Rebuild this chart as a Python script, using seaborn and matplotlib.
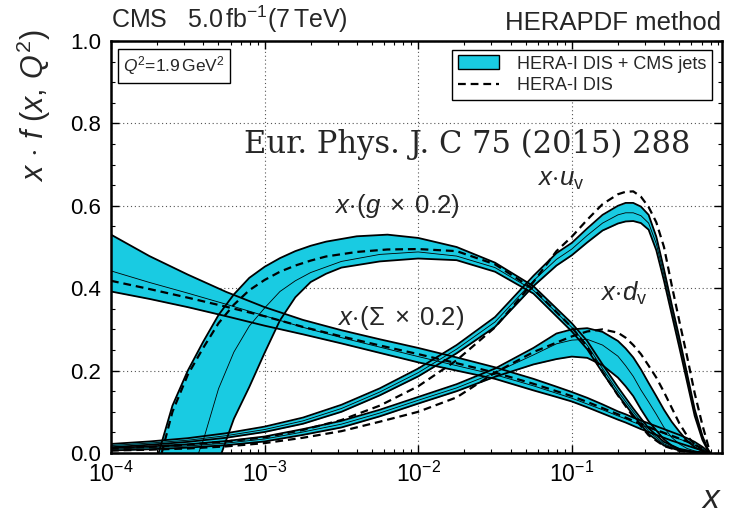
import numpy as np
import pandas as pd
import matplotlib
matplotlib.use("Agg")
import matplotlib.pyplot as plt
import seaborn as sns
from matplotlib.patches import Patch
from matplotlib.lines import Line2D
from matplotlib.ticker import LogLocator, MultipleLocator, NullFormatter, FixedLocator

# ---------------------------------------------------------------------------
# PDF values at Q^2 = 1.9 GeV^2 (x * f(x)), sampled at log10(x)
# ---------------------------------------------------------------------------
LOG_X = [-4.0, -3.75, -3.5, -3.25, -3.0, -2.75, -2.5, -2.25, -2.0, -1.75,
         -1.5, -1.25, -1.1, -1.0, -0.9, -0.8, -0.7, -0.65, -0.6, -0.55,
         -0.5, -0.45, -0.4, -0.35, -0.3, -0.25, -0.2, -0.15, -0.12, -0.1]

# sea quarks x*(Sigma x 0.2)
sea_up = [0.530, 0.478, 0.433, 0.391, 0.354, 0.323, 0.298, 0.276, 0.255, 0.232,
          0.208, 0.180, 0.161, 0.148, 0.134, 0.118, 0.101, 0.094, 0.086, 0.079,
          0.072, 0.065, 0.058, 0.051, 0.044, 0.036, 0.027, 0.015, 0.006, 0.0]
sea_mid = [0.442, 0.414, 0.388, 0.361, 0.333, 0.305, 0.280, 0.257, 0.234, 0.212,
           0.190, 0.163, 0.145, 0.133, 0.119, 0.105, 0.090, 0.083, 0.075, 0.068,
           0.061, 0.054, 0.047, 0.040, 0.034, 0.027, 0.019, 0.010, 0.004, 0.0]
sea_lo = [0.392, 0.374, 0.354, 0.332, 0.309, 0.288, 0.266, 0.243, 0.220, 0.200,
          0.180, 0.152, 0.136, 0.125, 0.111, 0.096, 0.081, 0.074, 0.066, 0.058,
          0.051, 0.044, 0.037, 0.030, 0.024, 0.018, 0.012, 0.006, 0.002, 0.0]
sea_dis = [0.418, 0.398, 0.377, 0.355, 0.332, 0.306, 0.283, 0.261, 0.240, 0.218,
           0.195, 0.168, 0.150, 0.138, 0.124, 0.109, 0.094, 0.086, 0.078, 0.071,
           0.063, 0.056, 0.049, 0.042, 0.035, 0.028, 0.020, 0.011, 0.004, 0.0]

# valence u quark x*u_v
uv_up = [0.022, 0.028, 0.036, 0.048, 0.064, 0.086, 0.117, 0.157, 0.205, 0.262,
         0.330, 0.430, 0.485, 0.510, 0.545, 0.578, 0.600, 0.607, 0.607, 0.598,
         0.578, 0.525, 0.446, 0.361, 0.280, 0.193, 0.106, 0.042, 0.014, 0.0]
uv_mid = [0.018, 0.024, 0.031, 0.042, 0.057, 0.078, 0.108, 0.148, 0.195, 0.252,
          0.318, 0.418, 0.470, 0.495, 0.528, 0.558, 0.578, 0.583, 0.583, 0.576,
          0.558, 0.508, 0.432, 0.349, 0.268, 0.183, 0.098, 0.037, 0.012, 0.0]
uv_lo = [0.014, 0.020, 0.027, 0.037, 0.051, 0.071, 0.100, 0.140, 0.186, 0.242,
         0.306, 0.405, 0.455, 0.480, 0.511, 0.540, 0.557, 0.562, 0.563, 0.558,
         0.542, 0.492, 0.418, 0.337, 0.256, 0.173, 0.090, 0.032, 0.010, 0.0]
uv_dis = [0.012, 0.015, 0.020, 0.028, 0.038, 0.056, 0.080, 0.115, 0.162, 0.225,
          0.305, 0.415, 0.490, 0.525, 0.566, 0.604, 0.628, 0.634, 0.635, 0.622,
          0.597, 0.560, 0.500, 0.408, 0.320, 0.235, 0.145, 0.068, 0.028, 0.0]

# valence d quark x*d_v
dv_up = [0.012, 0.016, 0.021, 0.029, 0.040, 0.058, 0.078, 0.105, 0.136, 0.167,
         0.205, 0.255, 0.290, 0.300, 0.303, 0.294, 0.272, 0.254, 0.232, 0.203,
         0.170, 0.138, 0.105, 0.076, 0.052, 0.030, 0.014, 0.005, 0.001, 0.0]
dv_mid = [0.009, 0.013, 0.017, 0.024, 0.034, 0.051, 0.070, 0.097, 0.128, 0.158,
          0.195, 0.238, 0.265, 0.274, 0.276, 0.262, 0.235, 0.212, 0.186, 0.153,
          0.124, 0.094, 0.062, 0.038, 0.022, 0.011, 0.005, 0.002, 0.0005, 0.0]
dv_lo = [0.006, 0.009, 0.013, 0.019, 0.028, 0.044, 0.062, 0.089, 0.120, 0.150,
         0.185, 0.215, 0.228, 0.234, 0.231, 0.213, 0.183, 0.162, 0.138, 0.106,
         0.077, 0.055, 0.033, 0.018, 0.009, 0.004, 0.002, 0.001, 0.0, 0.0]
dv_dis = [0.006, 0.008, 0.011, 0.016, 0.024, 0.037, 0.053, 0.076, 0.100, 0.135,
          0.195, 0.245, 0.268, 0.283, 0.295, 0.300, 0.292, 0.280, 0.262, 0.240,
          0.212, 0.183, 0.148, 0.110, 0.072, 0.042, 0.020, 0.006, 0.002, 0.0]

# gluon x*(g x 0.2): each edge has its own sampling (band starts above zero)
g_up_logx = [-3.69, -3.6, -3.5, -3.4, -3.3, -3.2, -3.1, -3.0, -2.9, -2.8, -2.7,
             -2.6, -2.4, -2.2, -2.0, -1.75, -1.5, -1.25, -1.0, -0.9, -0.8, -0.7,
             -0.6, -0.5, -0.4, -0.3, -0.2, -0.1]
g_up = [0.0, 0.115, 0.200, 0.270, 0.335, 0.385, 0.425, 0.452, 0.473, 0.490, 0.503,
        0.513, 0.526, 0.530, 0.522, 0.500, 0.462, 0.405, 0.315, 0.272, 0.215, 0.160,
        0.108, 0.060, 0.027, 0.010, 0.003, 0.0]

g_mid_logx = [-3.43, -3.4, -3.3, -3.2, -3.1, -3.0, -2.9, -2.8, -2.7, -2.5, -2.25,
              -2.0, -1.75, -1.5, -1.25, -1.0, -0.9, -0.8, -0.7, -0.6, -0.5, -0.4,
              -0.3, -0.2, -0.1]
g_mid = [0.0, 0.030, 0.156, 0.245, 0.308, 0.352, 0.392, 0.418, 0.438, 0.465, 0.482,
         0.488, 0.478, 0.450, 0.395, 0.305, 0.262, 0.205, 0.150, 0.100, 0.053, 0.022,
         0.008, 0.002, 0.0]

g_lo_logx = [-3.28, -3.2, -3.1, -3.0, -2.9, -2.8, -2.7, -2.6, -2.5, -2.25, -2.0,
             -1.75, -1.5, -1.25, -1.0, -0.9, -0.8, -0.7, -0.6, -0.5, -0.4, -0.3,
             -0.2, -0.1]
g_lo = [0.0, 0.083, 0.160, 0.243, 0.322, 0.378, 0.415, 0.435, 0.450, 0.465, 0.472,
        0.468, 0.440, 0.387, 0.295, 0.252, 0.195, 0.141, 0.092, 0.046, 0.018, 0.006,
        0.001, 0.0]

g_dis_logx = [-3.67, -3.6, -3.5, -3.4, -3.3, -3.2, -3.1, -3.0, -2.9, -2.8, -2.7,
              -2.6, -2.4, -2.2, -2.0, -1.75, -1.5, -1.25, -1.0, -0.9, -0.8, -0.7,
              -0.6, -0.5, -0.4, -0.3, -0.2, -0.1]
g_dis = [0.0, 0.100, 0.190, 0.255, 0.315, 0.360, 0.395, 0.420, 0.440, 0.455, 0.467,
         0.477, 0.488, 0.494, 0.495, 0.490, 0.458, 0.398, 0.305, 0.258, 0.197, 0.140,
         0.088, 0.043, 0.017, 0.005, 0.001, 0.0]

BAND = "#19cbe2"
DASH = (3.5, 2.2)

sns.set_theme(style="ticks")
plt.rcParams["font.family"] = ["Liberation Sans", "DejaVu Sans"]
plt.rcParams["mathtext.fontset"] = "custom"
plt.rcParams["mathtext.rm"] = "Liberation Sans"
plt.rcParams["mathtext.it"] = "Liberation Sans:italic"
plt.rcParams["mathtext.bf"] = "Liberation Sans:bold"
plt.rcParams["mathtext.sf"] = "Liberation Sans"

fig = plt.figure(figsize=(7.35, 5.14), dpi=100)
ax = fig.add_axes([111 / 735, 1 - 453 / 514, (722 - 111) / 735, (453 - 41) / 514])


def xs(logs):
    return np.power(10.0, np.asarray(logs))


# shared-grid bands: sea, u_v, d_v
x_shared = xs(LOG_X)
bands = {
    "sea": (sea_up, sea_mid, sea_lo, sea_dis),
    "uv": (uv_up, uv_mid, uv_lo, uv_dis),
    "dv": (dv_up, dv_mid, dv_lo, dv_dis),
}

# fills first so every outline stays visible across overlapping bands
for name, (up, mid, lo, dis) in bands.items():
    ax.fill_between(x_shared, lo, up, color=BAND, lw=0, zorder=1)

g_poly_x = np.concatenate([xs(g_up_logx), xs(g_lo_logx)[::-1]])
g_poly_y = np.concatenate([g_up, g_lo[::-1]])
ax.fill(g_poly_x, g_poly_y, color=BAND, lw=0, zorder=1)

edge_kw = dict(color="black", lw=1.3, zorder=3, legend=False)
mid_kw = dict(color="black", lw=0.6, zorder=3, legend=False)
dis_kw = dict(color="black", lw=1.6, zorder=4, legend=False, dashes=False)

dis_lines = []
for name, (up, mid, lo, dis) in bands.items():
    sns.lineplot(x=x_shared, y=up, ax=ax, **edge_kw)
    sns.lineplot(x=x_shared, y=lo, ax=ax, **edge_kw)
    sns.lineplot(x=x_shared, y=mid, ax=ax, **mid_kw)
    sns.lineplot(x=x_shared, y=dis, ax=ax, **dis_kw)
    dis_lines.append(ax.get_lines()[-1])

sns.lineplot(x=xs(g_up_logx), y=g_up, ax=ax, **edge_kw)
sns.lineplot(x=xs(g_lo_logx), y=g_lo, ax=ax, **edge_kw)
sns.lineplot(x=xs(g_mid_logx), y=g_mid, ax=ax, **mid_kw)
sns.lineplot(x=xs(g_dis_logx), y=g_dis, ax=ax, **dis_kw)
dis_lines.append(ax.get_lines()[-1])

for line in dis_lines:
    line.set_dashes(DASH)

ax.set_xscale("log")
ax.set_xlim(1e-4, 0.95)
ax.set_ylim(0.0, 1.0)

ax.xaxis.set_major_locator(FixedLocator([1e-4, 1e-3, 1e-2, 1e-1]))
ax.xaxis.set_minor_locator(LogLocator(base=10, subs=np.arange(2, 10)))
ax.xaxis.set_minor_formatter(NullFormatter())
ax.yaxis.set_minor_locator(MultipleLocator(0.05))
ax.set_yticks([0.0, 0.2, 0.4, 0.6, 0.8, 1.0])
ax.set_yticklabels(["0.0", "0.2", "0.4", "0.6", "0.8", "1.0"])

ax.tick_params(which="both", direction="in", top=True, right=True, colors="black")
ax.tick_params(which="major", length=6, width=1.0, pad=6)
ax.tick_params(axis="x", which="major", labelsize=16.5)
ax.tick_params(axis="y", which="major", labelsize=16, pad=7)
ax.tick_params(which="minor", length=3, width=0.8)
for s in ax.spines.values():
    s.set_linewidth(1.8)
    s.set_color("black")
ax.grid(True, which="major", ls=(0, (1, 2.5)), color="#555555", lw=0.8, zorder=0)
ax.set_axisbelow(True)

ax.set_ylabel(r"$x\,\cdot\,f\ (x,\,Q^2)$", fontsize=22, loc="top")
ax.yaxis.set_label_coords(-0.095, 1.027)
fig.text(722 / 735, 1 - 508 / 514, r"$x$", fontsize=24, ha="right", va="baseline")

# header texts
ax.text(0.0, 1.014, r"CMS   5.0$\,$fb$^{-1}$(7$\,$TeV)", transform=ax.transAxes,
        fontsize=18, ha="left", va="bottom")
ax.text(0.998, 1.014, "HERAPDF method", transform=ax.transAxes,
        fontsize=18.5, ha="right", va="bottom")

ax.text(0.02, 0.94, r"$Q^2$=1.9$\,$GeV$^2$", transform=ax.transAxes, fontsize=12.5,
        ha="left", va="center",
        bbox=dict(boxstyle="square,pad=0.32", fc="white", ec="black", lw=1.0))

ax.text(0.583, 0.748, "Eur. Phys. J. C 75 (2015) 288", transform=ax.transAxes,
        fontsize=22, family="DejaVu Serif", ha="center", va="center")

# curve labels
lab_kw = dict(fontsize=18.5, ha="left", va="center")
ax.text(10 ** -2.55, 0.600, r"$x\!\cdot\!(g\;\times\;0.2)$", **lab_kw)
ax.text(10 ** -2.53, 0.328, r"$x\!\cdot\!(\Sigma\;\times\;0.2)$", **lab_kw)
ax.text(10 ** -1.225, 0.663, r"$x\!\cdot\!u_{\mathrm{v}}$", **lab_kw)
ax.text(10 ** -0.814, 0.388, r"$x\!\cdot\!d_{\mathrm{v}}$", **lab_kw)

handles = [Patch(facecolor=BAND, edgecolor="black", lw=1.0),
           Line2D([], [], color="black", lw=1.6, dashes=DASH)]
leg = ax.legend(handles, ["HERA-I DIS + CMS jets", "HERA-I DIS"], loc="upper right",
                bbox_to_anchor=(0.984, 0.978), borderaxespad=0, fancybox=False,
                framealpha=1, edgecolor="black", fontsize=13, handlelength=2.3,
                handleheight=0.8, borderpad=0.3, labelspacing=0.25, handletextpad=1.0)
leg.get_frame().set_linewidth(1.0)
leg.set_zorder(10)

fig.savefig("out.png", dpi=100)
